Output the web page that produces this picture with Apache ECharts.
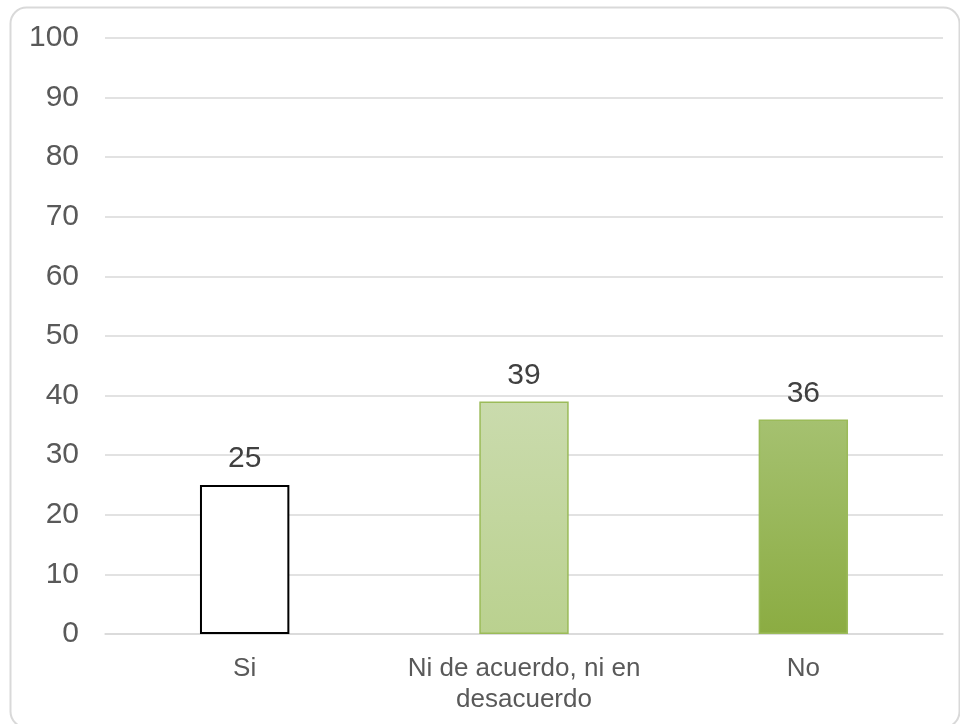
<!DOCTYPE html>
<html>
<head>
<meta charset="utf-8">
<script src="https://cdn.jsdelivr.net/npm/echarts@6/dist/echarts.min.js"></script>
<style>
  html, body { margin: 0; padding: 0; background: #ffffff; }
  #chart { width: 960px; height: 724px; }
</style>
</head>
<body>
<div id="chart"></div>
<script>
// Survey answers and their percentages
const categories = ['Si', 'Ni de acuerdo, ni en\ndesacuerdo', 'No'];
const values = [25, 39, 36];
const yTicks = [0, 10, 20, 30, 40, 50, 60, 70, 80, 90, 100];

const barStyles = [
  { color: '#ffffff', borderColor: '#000000', borderWidth: 2 },
  {
    color: new echarts.graphic.LinearGradient(0, 0, 0, 1, [
      { offset: 0, color: '#cadbad' },
      { offset: 1, color: '#bad18f' }
    ]),
    borderColor: '#9bbb59', borderWidth: 1.5
  },
  {
    color: new echarts.graphic.LinearGradient(0, 0, 0, 1, [
      { offset: 0, color: '#a5c170' },
      { offset: 1, color: '#8bac42' }
    ]),
    borderColor: '#9bbb59', borderWidth: 1.5
  }
];

const FONT = 'Liberation Sans, Arial, sans-serif';

const chart = echarts.init(document.getElementById('chart'));
chart.setOption({
  animation: false,
  backgroundColor: '#ffffff',
  graphic: [{
    type: 'rect',
    left: 8, top: 5,
    shape: { width: 949, height: 720, r: 16 },
    style: { fill: 'none', stroke: '#d9d9d9', lineWidth: 2 },
    silent: true,
    z: -1
  }],
  grid: { left: 105, right: 17, top: 38, bottom: 90 },
  xAxis: {
    type: 'category',
    data: categories,
    axisLine: { show: true, lineStyle: { color: '#d9d9d9', width: 1.5 } },
    axisTick: { show: false },
    axisLabel: {
      color: '#595959',
      fontFamily: FONT,
      fontSize: 26,
      lineHeight: 31,
      margin: 19,
      interval: 0
    }
  },
  yAxis: {
    type: 'value',
    min: yTicks[0],
    max: yTicks[yTicks.length - 1],
    interval: yTicks[1] - yTicks[0],
    axisLine: { show: false },
    axisTick: { show: false },
    splitLine: { lineStyle: { color: '#d9d9d9', width: 1.5 } },
    axisLabel: {
      color: '#595959',
      fontFamily: FONT,
      fontSize: 30,
      margin: 26
    }
  },
  series: [{
    type: 'bar',
    barWidth: '32%',
    data: values.map((v, i) => ({ value: v, itemStyle: barStyles[i] })),
    label: {
      show: true,
      position: 'top',
      distance: 11,
      color: '#404040',
      fontFamily: FONT,
      fontSize: 30
    }
  }]
});
</script>
</body>
</html>
